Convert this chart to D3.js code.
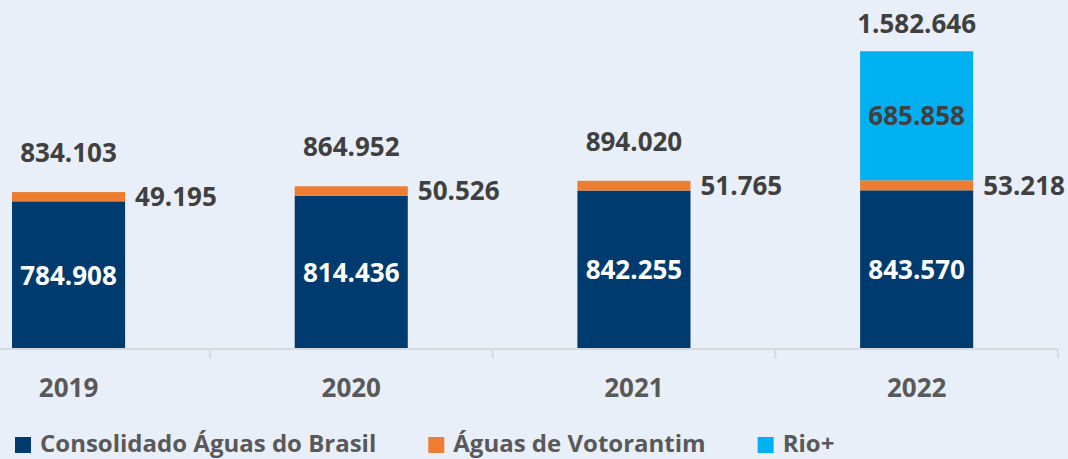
<!DOCTYPE html>
<html>
<head>
<meta charset="utf-8">
<script src="https://cdn.jsdelivr.net/npm/d3@7"></script>
<style>
  html, body { margin: 0; padding: 0; background: #E9EFF8; }
  svg { display: block; font-family: "Open Sans", "Noto Sans", sans-serif; font-weight: 700; }
</style>
</head>
<body>
<svg id="chart" width="1068" height="459"></svg>
<script>
// Annual volumes per business unit
const years = ["2019", "2020", "2021", "2022"];
const consolidado = [784908, 814436, 842255, 843570];
const votorantim = [49195, 50526, 51765, 53218];
const rioMais = [0, 0, 0, 685858];
const totals = [834103, 864952, 894020, 1582646];

const seriesNames = ["Consolidado Águas do Brasil", "Águas de Votorantim", "Rio+"];
const seriesColors = ["#003B6F", "#ED7D31", "#00B0F0"];

const fmt = v => d3.format(",")(v).replace(/,/g, ".");

const svg = d3.select("#chart");

const baseY = 349;
const x = d3.scaleBand().domain(years).range([-72.8, 1058]).paddingInner(0.6).paddingOuter(0.3);
const y = d3.scaleLinear().domain([0, 1600000]).range([baseY, 48]);

const rows = years.map((yr, i) => ({ yr, c: consolidado[i], v: votorantim[i], r: rioMais[i], t: totals[i] }));
const stack = d3.stack().keys(["c", "v", "r"])(rows);

// stacked bars
svg.append("g").selectAll("g").data(stack).join("g")
  .attr("fill", (d, i) => seriesColors[i])
  .selectAll("rect").data(d => d.filter(p => p[1] > p[0])).join("rect")
  .attr("x", d => x(d.data.yr))
  .attr("width", x.bandwidth())
  .attr("y", d => y(d[1]))
  .attr("height", d => y(d[0]) - y(d[1]));

// category axis: baseline and separators between categories
const step = x.step();
const r0 = x.range()[0];
const ax = svg.append("g").attr("stroke", "#D6D9DE").attr("stroke-width", 2);
ax.append("line").attr("x1", 0).attr("x2", x.range()[1]).attr("y1", baseY).attr("y2", baseY);
ax.selectAll("line.tick").data(d3.range(1, years.length + 1)).join("line")
  .attr("class", "tick")
  .attr("x1", i => r0 + i * step).attr("x2", i => r0 + i * step)
  .attr("y1", baseY).attr("y2", baseY + 9);

svg.append("g").selectAll("text").data(years).join("text")
  .attr("x", d => x(d) + x.bandwidth() / 2)
  .attr("y", 397)
  .attr("text-anchor", "middle")
  .attr("font-size", 26)
  .attr("fill", "#595959")
  .text(d => d);

const labels = svg.append("g").attr("font-size", 26);

// Consolidado values inside the navy segment
labels.selectAll("text.c").data(rows).join("text")
  .attr("class", "c")
  .attr("x", d => x(d.yr) + x.bandwidth() / 2)
  .attr("y", d => (y(0) + y(d.c)) / 2)
  .attr("dy", "0.36em")
  .attr("text-anchor", "middle")
  .attr("fill", "#FFFFFF")
  .text(d => fmt(d.c));

// Votorantim values beside the orange segment
labels.selectAll("text.v").data(rows).join("text")
  .attr("class", "v")
  .attr("x", d => x(d.yr) + x.bandwidth() + 10)
  .attr("y", d => (y(d.c) + y(d.c + d.v)) / 2)
  .attr("dy", "0.36em")
  .attr("fill", "#404040")
  .text(d => fmt(d.v));

// Rio+ values inside the cyan segment
labels.selectAll("text.r").data(rows.filter(d => d.r > 0)).join("text")
  .attr("class", "r")
  .attr("x", d => x(d.yr) + x.bandwidth() / 2)
  .attr("y", d => (y(d.c + d.v) + y(d.c + d.v + d.r)) / 2)
  .attr("dy", "0.36em")
  .attr("text-anchor", "middle")
  .attr("fill", "#404040")
  .text(d => fmt(d.r));

// totals above each bar, kept inside the top edge
labels.selectAll("text.t").data(rows).join("text")
  .attr("class", "t")
  .attr("x", d => x(d.yr) + x.bandwidth() / 2)
  .attr("y", d => Math.max(y(d.t) - 30, 33))
  .attr("text-anchor", "middle")
  .attr("fill", "#404040")
  .text(d => fmt(d.t));

// legend
const legend = svg.append("g").attr("font-size", 24);
let lx = 15;
seriesNames.forEach((name, i) => {
  legend.append("rect").attr("x", lx).attr("y", 437).attr("width", 16).attr("height", 16).attr("fill", seriesColors[i]);
  const t = legend.append("text").attr("x", lx + 25).attr("y", 452).attr("fill", "#595959").text(name);
  lx += 25 + t.node().getComputedTextLength() + 52;
});
</script>
</body>
</html>
